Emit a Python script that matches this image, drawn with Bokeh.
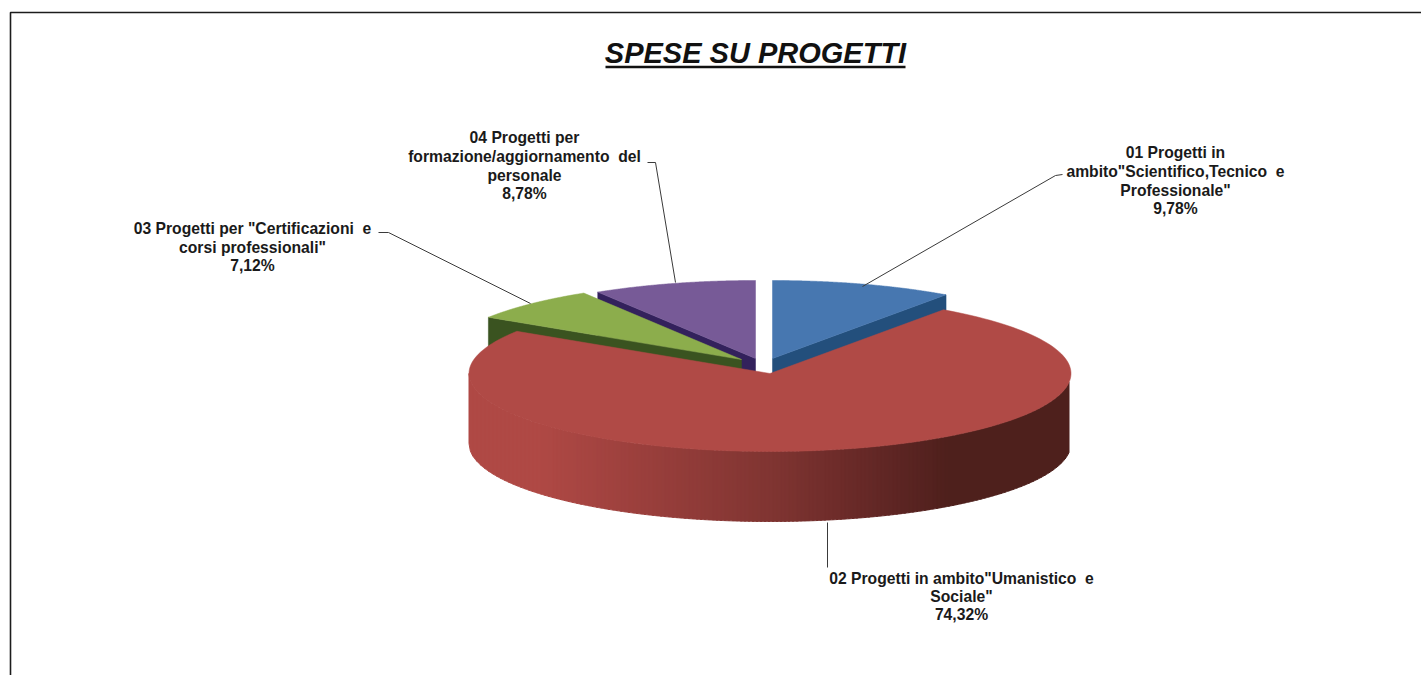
import numpy as np
from bokeh.embed import file_html
from bokeh.models import Range1d
from bokeh.plotting import figure
from bokeh.resources import INLINE
from bokeh.core.properties import value

# ---- data ----
title = "SPESE SU PROGETTI"
shares = [9.78, 74.32, 7.12, 8.78]
label_lines = [
    ["01 Progetti in", 'ambito"Scientifico,Tecnico \u00a0e', 'Professionale"', "9,78%"],
    ['02 Progetti in ambito"Umanistico \u00a0e', 'Sociale"', "74,32%"],
    ['03 Progetti per "Certificazioni \u00a0e', 'corsi professionali"', "7,12%"],
    ["04 Progetti per", "formazione/aggiornamento \u00a0del", "personale", "8,78%"],
]

# ---- style / layout (page pixel coordinates) ----
top_colors = ["#4777b0", "#b04a46", "#8cad4c", "#775a97"]
side_colors = ["#234f7c", "#b04a46", "#3a5320", "#33215c"]
apexes = [(772, 358), (769.5, 373), (741, 359), (755, 358)]
RX, RY, DEPTH = 301, 78, 70
label_x = [1175, 961, 252, 524]
label_y = [[152, 171, 190, 208], [578, 596, 614], [228, 247, 265], [137, 156, 175, 193]]
leaders = [
    ([862, 1055, 1062], [286, 175, 174]),
    ([827, 827], [522, 567]),
    ([530, 388, 378], [303, 232, 232]),
    ([675, 655, 647], [282, 162, 162]),
]
grad_x = [468, 540, 650, 770, 830, 900, 950, 1071]
grad_rgb = [(176, 74, 70), (175, 73, 69), (153, 63, 60), (128, 53, 50), (112, 45, 43),
            (92, 37, 35), (78, 32, 28), (78, 32, 28)]

W, H = 1421, 675
p = figure(width=W, height=H, x_range=Range1d(0, W), y_range=Range1d(H, 0),
           toolbar_location=None, output_backend="svg", min_border=0,
           background_fill_color="white", border_fill_color="white")
p.axis.visible = False
p.grid.visible = False
p.outline_line_color = None

# frame of the pasted picture
p.line([10, 10, W], [H, 12, 12], line_color="#1c1c1c", line_width=1.6)

# slice angles, clockwise from 12 o'clock
edges = np.radians(np.concatenate([[0], np.cumsum(shares)]) * 3.6)


def wedge(i):
    ax, ay = apexes[i]
    t = np.linspace(edges[i], edges[i + 1], 160)
    return ax + RX * np.sin(t), ay - RY * np.cos(t)


def cut_face(i, angle):
    ax, ay = apexes[i]
    cx, cy = ax + RX * np.sin(angle), ay - RY * np.cos(angle)
    return [ax, cx, cx, ax], [ay, cy, cy + DEPTH, ay + DEPTH]


# exploded slices: visible cut faces, then top faces
for i, ang in [(0, edges[1]), (3, edges[3]), (2, edges[2])]:
    xs, ys = cut_face(i, ang)
    p.patch(xs, ys, fill_color=side_colors[i], line_color=side_colors[i], line_width=0.5)
for i in (0, 3, 2):
    xs, ys = wedge(i)
    p.patch(np.r_[apexes[i][0], xs], np.r_[apexes[i][1], ys],
            fill_color=top_colors[i], line_color=top_colors[i], line_width=0.5)

# big slice: shaded wall as thin strips, then top face
ax, ay = apexes[1]
xe = np.arange(ax - RX, ax + RX + 0.1, 4.0)
rgb = np.array([np.interp(xe, grad_x, [c[k] for c in grad_rgb]) for k in range(3)]).T.astype(int)
sx, sy, cols = [], [], []
for n in range(len(xe) - 1):
    xa = np.linspace(xe[n], xe[n + 1], 4)
    u = np.clip((xa - ax) / RX, -1, 1)
    y = ay + RY * np.sqrt(1 - u ** 2)
    sx.append(np.r_[xa, xa[::-1]])
    sy.append(np.r_[y, (y + DEPTH)[::-1]])
    cols.append("#%02x%02x%02x" % tuple(rgb[n]))
p.patches(sx, sy, fill_color=cols, line_color=cols, line_width=1)
xs, ys = wedge(1)
p.patch(np.r_[ax, xs], np.r_[ay, ys], fill_color=top_colors[1], line_color=top_colors[1], line_width=0.5)

# leaders
for lx, ly in leaders:
    p.line(lx, ly, line_color="#3a3a3a", line_width=1)

# labels
for lines, x, ys in zip(label_lines, label_x, label_y):
    p.text([x] * len(lines), ys, text=lines, text_font=value("Liberation Sans"),
           text_font_style="bold", text_font_size="15.7px", text_color="#1a1a1a",
           text_align="center", text_baseline="middle")

# title with underline
p.text([755], [52], text=[title], text_font=value("Liberation Sans"),
       text_font_style="bold italic", text_font_size="29px", text_color="#111111",
       text_align="center", text_baseline="middle")
p.line([605, 905], [66.5, 66.5], line_color="#111111", line_width=2.5)

open("out.html", "w").write(file_html(p, INLINE))
